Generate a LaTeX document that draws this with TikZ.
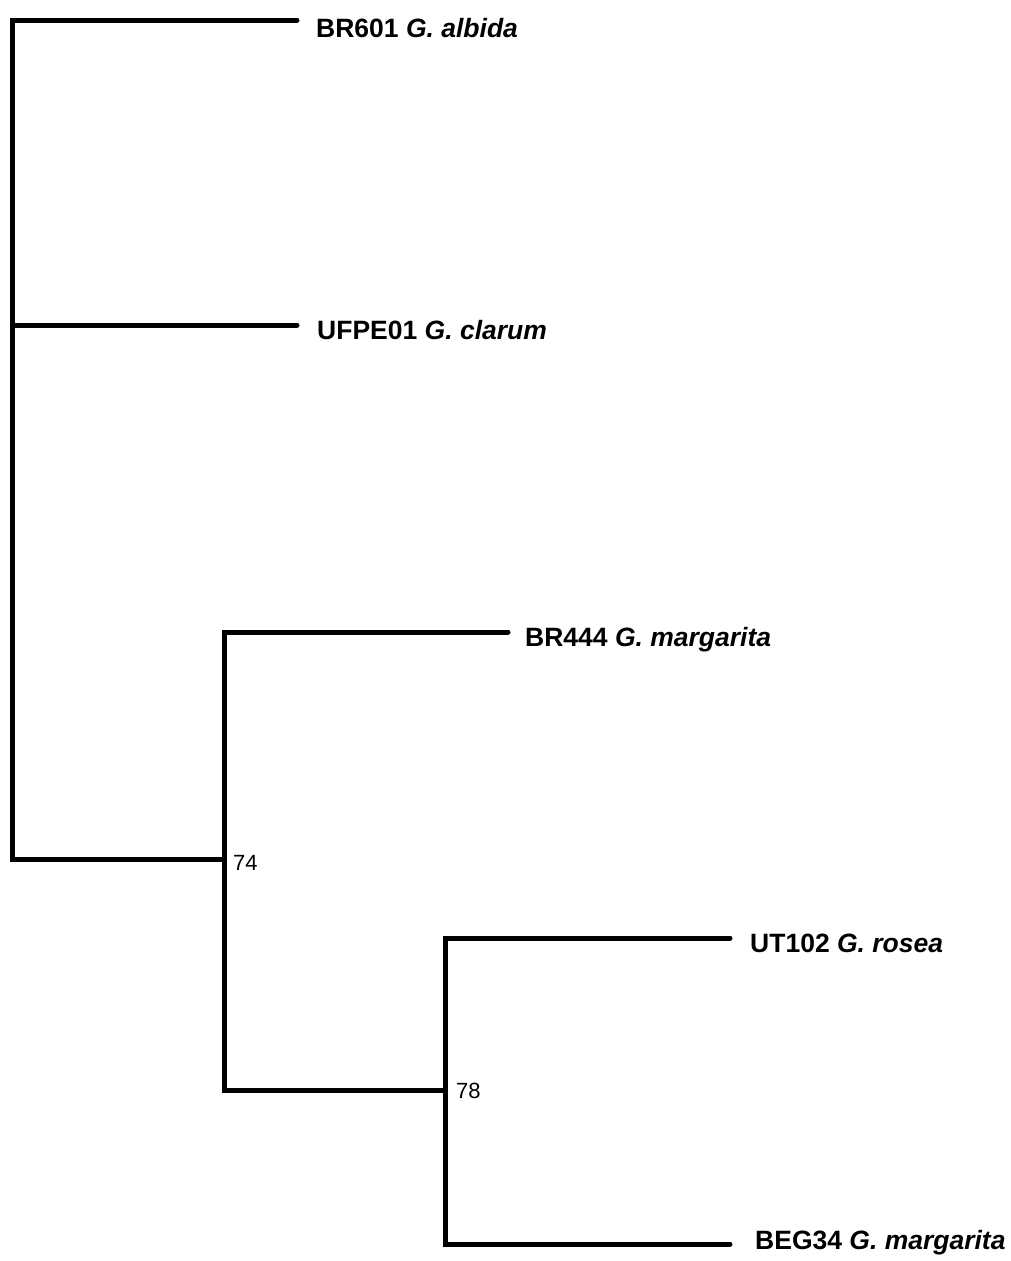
\documentclass[tikz,border=0pt]{standalone}
\usepackage{fontspec}
\setmainfont{Liberation Sans}
\usepackage{tikz}
\usetikzlibrary{positioning}

\begin{document}
\begin{tikzpicture}[
    x=1pt,y=-1pt,
    branch/.style={line width=5pt,line cap=round,line join=miter,draw=black},
    taxon/.style={anchor=base west,inner sep=0pt,font=\fontsize{26.5}{30}\selectfont\bfseries},
    support/.style={anchor=west,inner sep=0pt,font=\fontsize{22}{24}\selectfont}
]
    \useasboundingbox (0,0) rectangle (1011,1261);

    % internal nodes
    \coordinate (root) at (12.5,859);
    \coordinate (n74) at (224,859);
    \coordinate (n78) at (445,1090);

    % leaf tips
    \coordinate (t601) at (297,20);
    \coordinate (tufpe) at (297,325);
    \coordinate (t444) at (508,632);
    \coordinate (t102) at (730,938);
    \coordinate (t34) at (730,1244);

    % taxa
    \node[taxon] (br601) at (316,37) {BR601 \textit{G. albida}};
    \node[taxon] (ufpe01) at (317,339) {UFPE01 \textit{G. clarum}};
    \node[taxon] (br444) at (525,646) {BR444 \textit{G. margarita}};
    \node[taxon] (ut102) at (750,952) {UT102 \textit{G. rosea}};
    \node[taxon] (beg34) at (755,1249) {BEG34 \textit{G. margarita}};

    % bootstrap values
    \node[support] (b74) at (233,863) {74};
    \node[support] (b78) at (456,1091) {78};

    % tree
    \draw[branch] (t601) -| (root) -- (n74);
    \draw[branch] (root |- tufpe) -- (tufpe);
    \draw[branch] (t444) -| (n74) |- (n78);
    \draw[branch] (t102) -| (n78) |- (t34);
\end{tikzpicture}
\end{document}
